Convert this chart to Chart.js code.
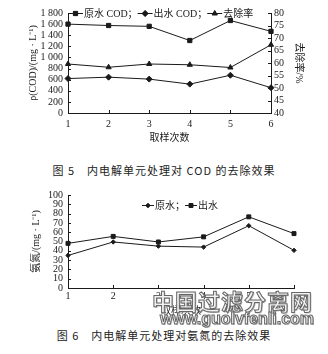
<!DOCTYPE html>
<html><head><meta charset="utf-8">
<script src="https://cdn.jsdelivr.net/npm/chart.js@4"></script>
<style>
html,body{margin:0;padding:0;background:#fff;}
body{width:328px;height:354px;position:relative;overflow:hidden;}
.box{position:absolute;left:0;width:328px;}
.cap{position:absolute;left:0;width:328px;text-align:center;font-family:"Noto Sans CJK SC","Liberation Serif",serif;font-size:11px;color:#222;letter-spacing:1px;white-space:pre;}
.wm1{position:absolute;left:152px;top:284px;font-family:"Noto Sans CJK SC",sans-serif;font-weight:700;font-size:22px;color:#f2f2f2;-webkit-text-stroke:1px #666;text-shadow:1px 1px 0 #bbb;letter-spacing:1px;white-space:nowrap;z-index:5;}
.wm2{position:absolute;left:160px;top:310px;font-family:"Liberation Sans",sans-serif;font-weight:700;font-size:16px;color:#f2f2f2;-webkit-text-stroke:1px #666;text-shadow:1px 1px 0 #bbb;white-space:nowrap;z-index:5;}
</style>
</head><body>
<div class="box" style="top:0;height:150px;"><canvas id="c1" width="328" height="150"></canvas></div>
<div class="cap" style="top:162px;">图 5　内电解单元处理对 COD 的去除效果</div>
<div class="box" style="top:180px;height:140px;"><canvas id="c2" width="328" height="140"></canvas></div>
<div class="cap" style="top:327px;">图 6　内电解单元处理对氨氮的去除效果</div>
<div class="wm1">中国过滤分离网</div>
<div class="wm2">www.guolvfenli.com</div>
<script>
// ---- data ----
const samples = ['1','2','3','4','5','6'];
const rawCOD = [1600, 1575, 1560, 1305, 1665, 1470];
const effCOD = [620, 645, 610, 520, 680, 455];
const removalRate = [59.6, 58.3, 59.6, 59.3, 58.2, 67.3];
const rawNH = [35, 49.5, 45, 44, 67, 40.5];
const effNH = [48, 55.5, 49.5, 55, 76.5, 58.5];
const codTicks = [0,200,400,600,800,1000,1200,1400,1600,1800];
const rateTicks = [40,45,50,55,60,65,70,75,80];
const nhTicks = [0,10,20,30,40,50,60,70,80,90,100];

const INK = '#1a1a1a';
const NUMFONT = '"Liberation Serif", serif';
const CJKFONT = '"Liberation Serif", "Noto Sans CJK SC", serif';

function fmt(v){
  const s = String(v);
  if (v >= 1000) return s.slice(0, s.length-3) + ' ' + s.slice(-3);
  return s;
}

const inwardTicks = {
  id:'inwardTicks',
  afterDatasetsDraw(chart){
    const ctx = chart.ctx;
    ctx.save(); ctx.strokeStyle = INK; ctx.lineWidth = 1;
    Object.values(chart.scales).forEach(s=>{
      s.ticks.forEach((t,i)=>{
        const p = Math.round(s.getPixelForTick(i)) + 0.5;
        ctx.beginPath();
        if (s.isHorizontal()) { ctx.moveTo(p, s.top); ctx.lineTo(p, s.top-3); }
        else if (s.position === 'left') { ctx.moveTo(s.right, p); ctx.lineTo(s.right+3, p); }
        else { ctx.moveTo(s.left, p); ctx.lineTo(s.left-3, p); }
        ctx.stroke();
      });
    });
    ctx.restore();
  }
};

const lineLegend = {
  id:'lineLegend',
  afterDraw(chart, args, opts){
    const ctx = chart.ctx;
    ctx.save();
    ctx.font = '10px ' + CJKFONT;
    ctx.fillStyle = INK; ctx.strokeStyle = INK; ctx.lineWidth = 1;
    ctx.textBaseline = 'middle';
    let x = opts.x; const y = opts.y; const seg = opts.seg;
    const ds = chart.data.datasets;
    ds.forEach((d,i)=>{
      ctx.beginPath(); ctx.moveTo(x, y+0.5); ctx.lineTo(x+seg, y+0.5); ctx.stroke();
      Chart.helpers.drawPoint(ctx, {pointStyle:d.pointStyle, radius:d.pointRadius, borderWidth:1}, x+seg/2, y+0.5);
      ctx.fill();
      x += seg + 1;
      const txt = d.label + (i < ds.length-1 ? '；' : '');
      ctx.fillText(txt, x, y+1);
      x += ctx.measureText(txt).width;
    });
    ctx.restore();
  }
};

function ds(label, data, style, r, axis){
  return {label, data, yAxisID: axis || 'y', pointStyle: style, pointRadius: r,
    borderColor: INK, backgroundColor: INK, pointBackgroundColor: INK, pointBorderColor: INK,
    borderWidth: 1, pointBorderWidth: 1, tension: 0, fill: false};
}

function axisBase(){
  return {
    grid:{display:false, drawTicks:false},
    border:{display:true, color:INK, width:1},
    ticks:{color:INK, font:{family:NUMFONT, size:10}, padding:4, autoSkip:false, maxRotation:0, minRotation:0},
  };
}

// ---- chart 1 ----
const x1 = axisBase();
Object.assign(x1, {type:'category', offset:false,
  title:{display:true, text:'取样次数', color:INK, font:{family:CJKFONT, size:10}, padding:{top:0,bottom:6}},
  afterFit(s){ s.height = 37; }});
x1.ticks.padding = 5;
const y1 = axisBase();
Object.assign(y1, {position:'left', min:0, max:1800,
  afterBuildTicks(s){ s.ticks = codTicks.map(v=>({value:v})); },
  title:{display:true, text:'ρ(COD)/(mg · L⁻¹)', color:INK, font:{family:CJKFONT, size:10}, padding:{top:27,bottom:0}},
  afterFit(s){ s.width = 68; }});
y1.ticks.callback = v => fmt(v);
y1.ticks.padding = 5;
const r1 = axisBase();
Object.assign(r1, {position:'right', min:40, max:80,
  afterBuildTicks(s){ s.ticks = rateTicks.map(v=>({value:v})); },
  title:{display:true, text:'去除率/%', color:INK, font:{family:CJKFONT, size:10}, padding:{top:23,bottom:0}},
  afterFit(s){ s.width = 57; }});
r1.ticks.padding = 3;

new Chart(document.getElementById('c1'), {
  type:'line',
  data:{labels:samples, datasets:[
    ds('原水 COD', rawCOD, 'rect', 3),
    ds('出水 COD', effCOD, 'rectRot', 3),
    ds('去除率', removalRate, 'triangle', 3, 'y1')
  ]},
  options:{responsive:false, animation:false, devicePixelRatio:1,
    layout:{padding:{top:13, left:0, right:0, bottom:0}},
    plugins:{legend:{display:false}, tooltip:{enabled:false}, lineLegend:{x:68, y:13, seg:15}},
    scales:{x:x1, y:y1, y1:r1}},
  plugins:[inwardTicks, lineLegend]
});

// ---- chart 2 ----
const x2 = axisBase();
Object.assign(x2, {type:'category', offset:false,
  title:{display:true, text:'取样次数', color:INK, font:{family:CJKFONT, size:10}, padding:{top:0,bottom:3}},
  afterFit(s){ s.height = 32; }});
x2.ticks.padding = 2;
const y2 = axisBase();
Object.assign(y2, {position:'left', min:0, max:100,
  afterBuildTicks(s){ s.ticks = nhTicks.map(v=>({value:v})); },
  title:{display:true, text:'氨氮/(mg · L⁻¹)', color:INK, font:{family:CJKFONT, size:10}, padding:{top:30,bottom:0}},
  afterFit(s){ s.width = 68; }});
y2.ticks.padding = 5;

new Chart(document.getElementById('c2'), {
  type:'line',
  data:{labels:samples, datasets:[
    ds('原水', rawNH, 'rectRot', 2.2),
    ds('出水', effNH, 'rect', 2.8)
  ]},
  options:{responsive:false, animation:false, devicePixelRatio:1,
    layout:{padding:{top:15, left:0, right:34, bottom:0}},
    plugins:{legend:{display:false}, tooltip:{enabled:false}, lineLegend:{x:142, y:25, seg:12}},
    scales:{x:x2, y:y2}},
  plugins:[inwardTicks, lineLegend]
});
</script>
</body></html>
